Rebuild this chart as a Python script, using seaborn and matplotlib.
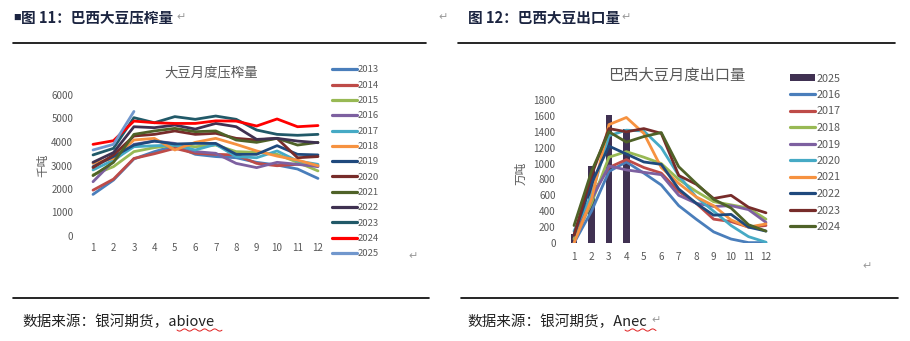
import numpy as np
import pandas as pd
import matplotlib
matplotlib.use("Agg")
import matplotlib.pyplot as plt
import seaborn as sns
from matplotlib.lines import Line2D
from matplotlib.patches import Patch

# ---------------- data ----------------
months = list(range(1, 13))

crush_years = ["2013", "2014", "2015", "2016", "2017", "2018", "2019",
               "2020", "2021", "2022", "2023", "2024", "2025"]
crush_2013 = [1770, 2380, 3280, 3590, 3840, 3475, 3380, 3330, 3135, 3020, 2850, 2450]
crush_2014 = [1950, 2420, 3300, 3500, 3730, 3520, 3475, 3450, 3090, 2990, 3050, 2990]
crush_2015 = [2600, 2950, 3590, 3760, 3870, 3800, 3870, 3590, 3560, 3475, 3135, 2770]
crush_2016 = [2310, 3190, 3900, 4040, 3940, 3590, 3520, 3090, 2910, 3135, 3050, 2950]
crush_2017 = [2810, 3230, 3800, 3840, 3870, 3660, 3900, 3380, 3330, 3620, 3190, 3050]
crush_2018 = [3090, 3300, 4085, 4155, 3660, 3985, 4155, 3900, 3620, 3400, 3230, 2990]
crush_2019 = [2950, 3380, 3870, 4040, 3915, 3940, 3940, 3475, 3475, 3845, 3475, 3450]
crush_2020 = [2910, 3450, 4255, 4325, 4470, 4325, 4370, 4155, 4085, 4155, 3330, 3380]
crush_2021 = [2570, 3135, 4325, 4470, 4580, 4440, 4470, 4085, 3985, 4155, 3870, 3985]
crush_2022 = [3135, 3550, 4650, 4610, 4720, 4550, 4790, 4650, 4110, 4155, 4040, 3970]
crush_2023 = [3450, 3730, 5035, 4820, 5080, 4965, 5105, 4965, 4510, 4325, 4285, 4325]
crush_2024 = [3900, 4055, 4890, 4820, 4790, 4790, 4900, 4890, 4680, 4980, 4650, 4700]
crush_2025 = [3660, 3900, 5300]
crush_values = [crush_2013, crush_2014, crush_2015, crush_2016, crush_2017,
                crush_2018, crush_2019, crush_2020, crush_2021, crush_2022,
                crush_2023, crush_2024, crush_2025]
crush_ticks = [0, 1000, 2000, 3000, 4000, 5000, 6000]

export_bar_year = "2025"
export_2025 = [110, 970, 1610, 1440]
export_years = ["2016", "2017", "2018", "2019", "2020", "2021", "2022", "2023", "2024"]
export_2016 = [0, 400, 900, 1020, 880, 730, 470, 300, 140, 50, 5, 5]
export_2017 = [50, 600, 950, 1050, 950, 880, 650, 500, 300, 270, 200, 220]
export_2018 = [50, 500, 1080, 1150, 1080, 1000, 800, 650, 520, 480, 440, 300]
export_2019 = [0, 550, 970, 920, 890, 860, 600, 500, 460, 470, 420, 260]
export_2020 = [150, 600, 1350, 1420, 1410, 1200, 850, 580, 400, 220, 80, 10]
export_2021 = [0, 550, 1490, 1580, 1380, 950, 750, 580, 470, 290, 200, 240]
export_2022 = [100, 750, 1220, 1120, 1020, 990, 680, 500, 350, 360, 200, 150]
export_2023 = [100, 850, 1440, 1400, 1440, 1380, 850, 740, 560, 600, 450, 380]
export_2024 = [220, 900, 1400, 1270, 1340, 1390, 960, 750, 550, 440, 230, 150]
export_values = [export_2016, export_2017, export_2018, export_2019, export_2020,
                 export_2021, export_2022, export_2023, export_2024]
export_ticks = [0, 200, 400, 600, 800, 1000, 1200, 1400, 1600, 1800]

# ---------------- styles ----------------
crush_colors = ["#4A7EBB", "#BE4B48", "#98B954", "#7D60A0", "#46AAC5", "#F69240",
                "#1F497D", "#772C2A", "#4F6228", "#3F3151", "#215968", "#FF0000",
                "#7197CD"]
export_colors = ["#4A7EBB", "#BE4B48", "#98B954", "#7D60A0", "#46AAC5", "#F69240",
                 "#1F497D", "#772C2A", "#4F6228"]
bar_color = "#403152"
GRAY = "#595959"

sns.set_theme(style="white")
CJK = ["Noto Sans CJK SC", "DejaVu Sans"]
plt.rcParams["font.family"] = CJK

W, H = 910, 341
fig = plt.figure(figsize=(W / 100, H / 100), dpi=100)


def fx(px):
    return px / W


def fy(py):
    return 1 - py / H


def axes_px(left, right, top, bottom):
    return fig.add_axes([fx(left), fy(bottom), (right - left) / W, (bottom - top) / H])


# ---------------- left chart ----------------
crush_df = pd.concat(
    [pd.DataFrame({"month": months[:len(v)], "value": v, "year": y})
     for y, v in zip(crush_years, crush_values)], ignore_index=True)

ax1 = axes_px(82.8, 328.2, 95, 236)
sns.lineplot(data=crush_df, x="month", y="value", hue="year", hue_order=crush_years,
             palette=dict(zip(crush_years, crush_colors)), linewidth=2.0,
             legend=False, ax=ax1, sort=False)
ax1.set_xlim(0.5, 12.5)
ax1.set_ylim(0, 6000)
ax1.set_xticks(months)
ax1.set_yticks(crush_ticks)
ax1.set_xlabel("")
ax1.set_ylabel("")
for s in ax1.spines.values():
    s.set_visible(False)
ax1.tick_params(axis="both", length=0, labelsize=7, labelcolor=GRAY)
ax1.tick_params(axis="y", pad=7)
ax1.tick_params(axis="x", pad=5)
ax1.set_facecolor("none")

fig.text(fx(211), fy(72), "大豆月度压榨量", ha="center", va="center",
         fontsize=9.6, color=GRAY)
fig.text(fx(43), fy(165), "千吨", ha="center", va="center", rotation=90,
         fontsize=8.4, color=GRAY)

h1 = [Line2D([], [], color=c, lw=2.3) for c in crush_colors]
fig.legend(h1, crush_years, loc="upper left", bbox_to_anchor=(fx(332), fy(65.5)),
           frameon=False, borderpad=0, borderaxespad=0, handlelength=2.6,
           handletextpad=0.1, labelspacing=0.67, fontsize=6.8, labelcolor=GRAY)

# ---------------- right chart ----------------
export_df = pd.concat(
    [pd.DataFrame({"month": months, "value": v, "year": y})
     for y, v in zip(export_years, export_values)], ignore_index=True)
bar_df = pd.DataFrame({"month": months[:len(export_2025)], "value": export_2025})

ax2 = axes_px(565.3, 774.7, 100, 243)
sns.barplot(data=bar_df, x="month", y="value", native_scale=True, width=0.37,
            color=bar_color, saturation=1, errorbar=None, linewidth=0,
            edgecolor=bar_color, ax=ax2)
sns.lineplot(data=export_df, x="month", y="value", hue="year", hue_order=export_years,
             palette=dict(zip(export_years, export_colors)), linewidth=2.0,
             legend=False, ax=ax2, sort=False)
ax2.set_xlim(0.5, 12.5)
ax2.set_ylim(0, 1800)
ax2.set_xticks(months)
ax2.set_xticklabels([str(m) for m in months])
ax2.set_yticks(export_ticks)
ax2.set_xlabel("")
ax2.set_ylabel("")
for s in ax2.spines.values():
    s.set_visible(False)
ax2.tick_params(axis="both", length=0, labelsize=7.2, labelcolor=GRAY)
ax2.tick_params(axis="y", pad=7)
ax2.tick_params(axis="x", pad=6.5)
ax2.set_facecolor("none")

fig.text(fx(677), fy(75), "巴西大豆月度出口量", ha="center", va="center",
         fontsize=11, color=GRAY)
fig.text(fx(521), fy(173), "万吨", ha="center", va="center", rotation=90,
         fontsize=8.4, color=GRAY)

h2 = [Patch(facecolor=bar_color, edgecolor="none")] + \
     [Line2D([], [], color=c, lw=2.3) for c in export_colors]
fig.legend(h2, [export_bar_year] + export_years, loc="upper left",
           bbox_to_anchor=(fx(790), fy(73.5)), frameon=False, borderpad=0,
           borderaxespad=0, handlelength=2.3, handleheight=0.6, handletextpad=0.15,
           labelspacing=0.6, fontsize=7.8, labelcolor=GRAY)

# ---------------- document decorations ----------------
HEAD = "#1B2440"
fig.text(fx(13), fy(18), "■", ha="left", va="center", fontsize=5.5, color=HEAD)
fig.text(fx(21), fy(17.5), "图 11：巴西大豆压榨量", ha="left", va="center",
         fontsize=10.5, fontweight="bold", color=HEAD)
fig.text(fx(468), fy(17.5), "图 12：巴西大豆出口量", ha="left", va="center",
         fontsize=10.5, fontweight="bold", color=HEAD)

RET = "#9A9A9A"
for (x, y) in [(176, 17), (438, 17), (621, 17), (408, 256), (862, 266), (651, 320)]:
    fig.text(fx(x), fy(y), "↵", ha="left", va="center", fontsize=8,
             color=RET, family=["DejaVu Sans"])

for (x0, x1, y) in [(13, 426, 43), (458, 895, 43), (13, 429, 298), (461, 898, 298)]:
    fig.add_artist(Line2D([fx(x0), fx(x1)], [fy(y), fy(y)], color="black", lw=1.2,
                          transform=fig.transFigure))

fig.text(fx(22), fy(322), "数据来源：银河期货，abiove", ha="left", va="center",
         fontsize=10.5, color="#222222")
fig.text(fx(467), fy(322), "数据来源：银河期货，Anec", ha="left", va="center",
         fontsize=10.5, color="#222222")

for (x0, x1) in [(177, 222), (625, 656)]:
    wx = np.linspace(x0, x1, 60)
    wy = 330 + 1.1 * np.sin((wx - x0) / 1.6)
    fig.add_artist(Line2D(fx(wx), fy(wy), color="#E02020", lw=0.7,
                          transform=fig.transFigure))

fig.savefig("out.png", dpi=100)
